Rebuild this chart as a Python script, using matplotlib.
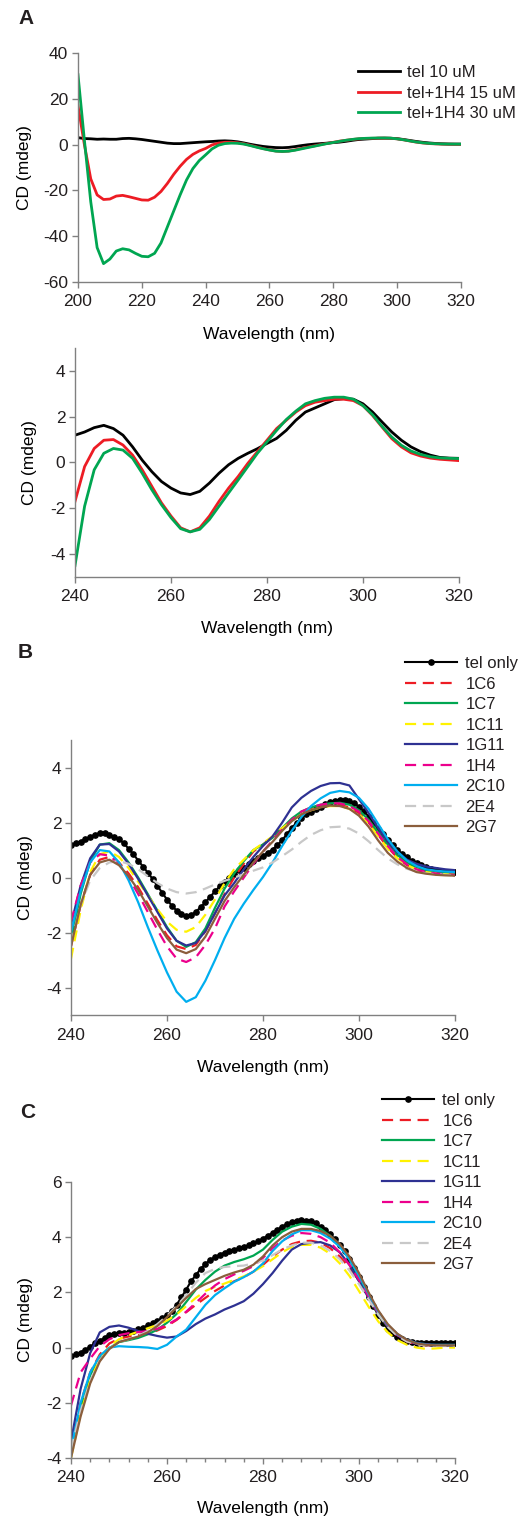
import numpy as np
import matplotlib.pyplot as plt
from matplotlib.ticker import MultipleLocator

plt.rcParams['font.family'] = ['Liberation Sans', 'DejaVu Sans']
plt.rcParams['font.size'] = 12.5
plt.rcParams['text.color'] = '#231f20'
plt.rcParams['axes.unicode_minus'] = False

# ---- panel A: 200-238 nm part (2 nm steps) ----
wl_a_low = np.arange(200, 240, 2)
tel_low = [3.0, 2.6, 2.5, 2.3, 2.4, 2.3, 2.3, 2.6, 2.7, 2.5, 2.2, 1.8, 1.4, 1.0, 0.6, 0.4, 0.4, 0.6, 0.8, 1.0]
h15_low = [17, 0, -15, -22, -24, -23.8, -22.5, -22.2, -22.8, -23.5, -24.2, -24.3, -23, -20.5, -17, -13, -9.5, -6.5, -4.3, -2.8]
h30_low = [30.5, 2, -25, -45, -52, -50, -46.5, -45.5, -46, -47.5, -48.8, -49, -47.5, -43, -36, -29, -22, -15.5, -10.5, -7]

# ---- 240-320 nm (2 nm steps) ----
wl = np.arange(240, 322, 2)
tel_a = [1.19, 1.33, 1.52, 1.62, 1.48, 1.19, 0.68, 0.1, -0.4, -0.83, -1.12, -1.33, -1.40, -1.26, -0.9, -0.47, -0.1, 0.18, 0.4, 0.6,
         0.83, 1.05, 1.4, 1.84, 2.2, 2.38, 2.56, 2.74, 2.79, 2.76, 2.56, 2.2, 1.76, 1.33, 0.97, 0.68, 0.47, 0.32, 0.22, 0.19, 0.18]
h15_a = [-1.7, -0.18, 0.61, 0.97, 1.0, 0.76, 0.32, -0.32, -1.04, -1.76, -2.34, -2.85, -3.03, -2.85, -2.34, -1.7, -1.12, -0.61, -0.04, 0.47,
         0.97, 1.48, 1.84, 2.2, 2.48, 2.63, 2.7, 2.76, 2.76, 2.7, 2.48, 2.05, 1.54, 1.04, 0.68, 0.42, 0.28, 0.19, 0.14, 0.11, 0.08]
h30_a = [-4.5, -1.91, -0.32, 0.4, 0.61, 0.54, 0.18, -0.47, -1.19, -1.84, -2.41, -2.89, -3.03, -2.92, -2.49, -1.91, -1.33, -0.76, -0.18, 0.4,
         0.9, 1.4, 1.87, 2.24, 2.56, 2.7, 2.8, 2.85, 2.85, 2.76, 2.48, 2.08, 1.57, 1.11, 0.75, 0.5, 0.35, 0.25, 0.2, 0.18, 0.17]

# ---- panel B ----
wl_1nm = np.arange(240, 321, 1)
tel_b = [1.20, 1.25, 1.30, 1.40, 1.48, 1.56, 1.62, 1.62, 1.55, 1.48, 1.40, 1.25, 1.05, 0.85, 0.62, 0.40, 0.18, -0.05, -0.30, -0.55,
         -0.80, -1.02, -1.20, -1.33, -1.38, -1.36, -1.25, -1.08, -0.90, -0.70, -0.50, -0.32, -0.15, 0.00, 0.14, 0.26, 0.36, 0.48, 0.62, 0.72,
         0.80, 0.90, 1.02, 1.18, 1.36, 1.58, 1.80, 2.00, 2.16, 2.30, 2.40, 2.50, 2.58, 2.68, 2.76, 2.80, 2.83, 2.82, 2.78, 2.70,
         2.58, 2.42, 2.22, 2.00, 1.78, 1.57, 1.37, 1.18, 1.00, 0.86, 0.74, 0.62, 0.52, 0.44, 0.38, 0.32, 0.28, 0.25, 0.22, 0.20, 0.19]
b_1c6 = [-2.5, -1.0, 0.1, 0.65, 0.75, 0.55, 0.15, -0.35, -0.95, -1.55, -2.1, -2.5, -2.6, -2.45, -1.95, -1.3, -0.6, 0.0, 0.5, 0.95,
         1.2, 1.5, 1.8, 2.1, 2.35, 2.5, 2.6, 2.65, 2.65, 2.55, 2.35, 2.0, 1.55, 1.1, 0.72, 0.45, 0.28, 0.18, 0.12, 0.1, 0.08]
b_1c7 = [-2.3, -0.6, 0.6, 1.2, 1.25, 1.0, 0.55, 0.0, -0.6, -1.2, -1.8, -2.3, -2.52, -2.35, -1.85, -1.1, -0.4, 0.15, 0.6, 1.0,
         1.2, 1.45, 1.8, 2.15, 2.4, 2.55, 2.65, 2.7, 2.72, 2.65, 2.45, 2.1, 1.65, 1.2, 0.82, 0.55, 0.35, 0.25, 0.2, 0.17, 0.15]
b_1c11 = [-2.95, -1.2, 0.2, 0.85, 0.95, 0.75, 0.35, -0.15, -0.65, -1.15, -1.6, -1.9, -1.97, -1.8, -1.35, -0.8, -0.2, 0.3, 0.65, 1.0,
          1.25, 1.5, 1.8, 2.05, 2.3, 2.45, 2.55, 2.6, 2.6, 2.5, 2.3, 1.95, 1.5, 1.05, 0.7, 0.45, 0.3, 0.2, 0.15, 0.12, 0.1]
b_1g11 = [-1.7, -0.3, 0.7, 1.2, 1.22, 0.95, 0.5, -0.05, -0.65, -1.25, -1.85, -2.3, -2.47, -2.38, -1.95, -1.3, -0.65, -0.2, 0.3, 0.75,
          1.15, 1.5, 2.0, 2.55, 2.9, 3.15, 3.33, 3.43, 3.44, 3.35, 2.85, 2.35, 1.8, 1.3, 0.92, 0.65, 0.5, 0.4, 0.35, 0.3, 0.27]
b_1h4 = [-1.6, -0.3, 0.55, 0.85, 0.8, 0.5, 0.0, -0.6, -1.25, -1.9, -2.5, -2.95, -3.07, -2.9, -2.45, -1.85, -1.05, -0.5, 0.0, 0.5,
         0.95, 1.35, 1.75, 2.1, 2.4, 2.55, 2.65, 2.7, 2.7, 2.6, 2.4, 2.05, 1.6, 1.15, 0.75, 0.48, 0.3, 0.2, 0.15, 0.12, 0.1]
b_2c10 = [-2.0, -0.5, 0.55, 1.0, 0.95, 0.55, -0.1, -0.9, -1.8, -2.65, -3.45, -4.15, -4.52, -4.35, -3.75, -3.0, -2.2, -1.5, -0.95, -0.45,
          0.02, 0.55, 1.15, 1.7, 2.2, 2.6, 2.88, 3.08, 3.15, 3.1, 2.9, 2.5, 1.95, 1.4, 0.95, 0.62, 0.42, 0.3, 0.25, 0.22, 0.2]
b_2e4 = [-2.4, -1.0, -0.1, 0.35, 0.55, 0.6, 0.5, 0.3, 0.05, -0.2, -0.4, -0.53, -0.58, -0.53, -0.4, -0.25, -0.12, 0.0, 0.12, 0.25,
         0.37, 0.55, 0.78, 1.02, 1.3, 1.55, 1.72, 1.83, 1.85, 1.78, 1.6, 1.32, 1.0, 0.7, 0.48, 0.32, 0.22, 0.15, 0.12, 0.1, 0.08]
b_2g7 = [-2.5, -1.0, 0.1, 0.55, 0.65, 0.45, 0.05, -0.45, -1.05, -1.65, -2.2, -2.62, -2.75, -2.6, -2.15, -1.5, -0.85, -0.35, 0.1, 0.55,
         0.95, 1.3, 1.7, 2.05, 2.3, 2.45, 2.55, 2.62, 2.6, 2.5, 2.25, 1.85, 1.35, 0.9, 0.58, 0.35, 0.2, 0.14, 0.1, 0.08, 0.07]

# ---- panel C ----
tel_c = [-0.29, -0.25, -0.18, -0.08, 0.03, 0.15, 0.25, 0.35, 0.45, 0.5, 0.52, 0.54, 0.56, 0.6, 0.66, 0.72, 0.8, 0.88, 0.96, 1.06,
         1.18, 1.33, 1.55, 1.82, 2.1, 2.4, 2.62, 2.85, 3.02, 3.18, 3.28, 3.37, 3.44, 3.49, 3.55, 3.6, 3.65, 3.7, 3.78, 3.86,
         3.95, 4.05, 4.15, 4.27, 4.38, 4.48, 4.55, 4.6, 4.62, 4.6, 4.57, 4.5, 4.38, 4.25, 4.1, 3.92, 3.72, 3.5, 3.22, 2.9,
         2.55, 2.2, 1.85, 1.5, 1.18, 0.9, 0.68, 0.53, 0.4, 0.3, 0.24, 0.2, 0.17, 0.16, 0.16, 0.16, 0.16, 0.17, 0.17, 0.18, 0.18]
c_1c6 = [-3.6, -2.0, -0.9, -0.25, 0.15, 0.32, 0.4, 0.45, 0.52, 0.62, 0.78, 1.0, 1.28, 1.55, 1.8, 2.05, 2.25, 2.4, 2.55, 2.75,
         3.0, 3.3, 3.55, 3.75, 3.85, 3.87, 3.8, 3.6, 3.3, 2.9, 2.4, 1.8, 1.2, 0.75, 0.42, 0.22, 0.12, 0.08, 0.06, 0.06, 0.06]
c_1c7 = [-3.8, -2.2, -1.0, -0.35, -0.02, 0.2, 0.27, 0.35, 0.48, 0.65, 0.9, 1.22, 1.65, 2.1, 2.45, 2.75, 2.97, 3.1, 3.2, 3.33,
         3.55, 3.9, 4.2, 4.38, 4.48, 4.45, 4.3, 4.05, 3.7, 3.2, 2.55, 1.85, 1.2, 0.75, 0.45, 0.27, 0.17, 0.12, 0.1, 0.1, 0.1]
c_1c11 = [-4.0, -2.4, -1.2, -0.4, 0.05, 0.3, 0.45, 0.58, 0.7, 0.82, 0.98, 1.2, 1.5, 1.8, 2.05, 2.2, 2.32, 2.45, 2.58, 2.75,
          2.95, 3.2, 3.45, 3.65, 3.72, 3.72, 3.62, 3.4, 3.05, 2.6, 2.05, 1.48, 0.95, 0.55, 0.27, 0.1, 0.0, -0.05, -0.03, 0.0, 0.0]
c_1g11 = [-3.4, -1.5, -0.2, 0.55, 0.75, 0.8, 0.72, 0.6, 0.5, 0.42, 0.36, 0.4, 0.6, 0.85, 1.05, 1.2, 1.38, 1.52, 1.68, 1.95,
          2.3, 2.7, 3.15, 3.55, 3.75, 3.8, 3.82, 3.7, 3.45, 3.0, 2.4, 1.8, 1.25, 0.8, 0.48, 0.28, 0.17, 0.12, 0.1, 0.1, 0.1]
c_1h4 = [-2.1, -0.9, -0.4, 0.05, 0.3, 0.45, 0.52, 0.56, 0.6, 0.68, 0.82, 1.02, 1.3, 1.62, 1.95, 2.25, 2.48, 2.65, 2.78, 2.95,
         3.25, 3.6, 3.88, 4.05, 4.15, 4.12, 4.0, 3.8, 3.45, 3.0, 2.45, 1.85, 1.25, 0.78, 0.45, 0.25, 0.14, 0.1, 0.08, 0.08, 0.08]
c_2c10 = [-3.7, -2.0, -0.9, -0.3, 0.0, 0.05, 0.03, 0.02, 0.0, -0.05, 0.1, 0.4, 0.65, 1.1, 1.55, 1.9, 2.15, 2.38, 2.55, 2.75,
          3.05, 3.5, 3.85, 4.1, 4.25, 4.25, 4.15, 3.95, 3.65, 3.2, 2.6, 1.95, 1.3, 0.82, 0.48, 0.27, 0.15, 0.1, 0.08, 0.08, 0.08]
c_2e4 = [-3.7, -2.3, -1.2, -0.45, -0.05, 0.2, 0.3, 0.42, 0.6, 0.85, 1.15, 1.5, 1.9, 2.35, 2.7, 2.85, 2.92, 2.95, 2.97, 3.05,
         3.15, 3.35, 3.55, 3.7, 3.8, 3.8, 3.7, 3.5, 3.2, 2.8, 2.3, 1.75, 1.2, 0.75, 0.42, 0.22, 0.12, 0.08, 0.06, 0.06, 0.06]
c_2g7 = [-4.0, -2.5, -1.3, -0.5, -0.05, 0.2, 0.3, 0.4, 0.55, 0.78, 1.1, 1.45, 1.8, 2.12, 2.3, 2.45, 2.6, 2.72, 2.82, 3.0,
         3.3, 3.7, 4.0, 4.2, 4.3, 4.3, 4.22, 4.05, 3.75, 3.3, 2.7, 2.0, 1.35, 0.85, 0.5, 0.28, 0.15, 0.1, 0.08, 0.08, 0.08]

names = ['1C6', '1C7', '1C11', '1G11', '1H4', '2C10', '2E4', '2G7']
colors = ['#ed1c24', '#00a651', '#fff200', '#2e3192', '#ec008c', '#00aeef', '#c8c8c8', '#8b5e3c']
dashed = [True, False, True, False, True, False, True, False]
b_series = [b_1c6, b_1c7, b_1c11, b_1g11, b_1h4, b_2c10, b_2e4, b_2g7]
c_series = [c_1c6, c_1c7, c_1c11, c_1g11, c_1h4, c_2c10, c_2e4, c_2g7]

spine_col = '#808080'
fs = 12.5
leg_fs = 12


def style(ax, xlabel_y, ylabel_x):
    for s in ['top', 'right']:
        ax.spines[s].set_visible(False)
    for s in ['left', 'bottom']:
        ax.spines[s].set_color(spine_col)
        ax.spines[s].set_linewidth(1.0)
    ax.tick_params(axis='both', direction='out', length=4, width=1.0, color=spine_col,
                   labelsize=fs, labelcolor='#231f20')
    ax.tick_params(axis='x', pad=5)
    ax.tick_params(axis='y', pad=3)
    ax.set_xlabel('Wavelength (nm)', fontsize=fs)
    ax.set_ylabel('CD (mdeg)', fontsize=fs)
    ax.xaxis.set_label_coords(0.5, xlabel_y)
    ax.yaxis.set_label_coords(ylabel_x, 0.5)


fig = plt.figure(figsize=(5.22, 15.2), dpi=100)

# A top
ax1 = fig.add_axes([0.1494, 0.8145, 0.7337, 0.1507])
wl_a = np.concatenate([wl_a_low, wl])
ax1.plot(wl_a, np.concatenate([tel_low, tel_a]), color='#000000', lw=2, label='tel 10 uM')
ax1.plot(wl_a, np.concatenate([h15_low, h15_a]), color='#ed1c24', lw=2, label='tel+1H4 15 uM')
ax1.plot(wl_a, np.concatenate([h30_low, h30_a]), color='#00a651', lw=2, label='tel+1H4 30 uM')
ax1.set_xlim(200, 320)
ax1.set_ylim(-60, 40)
ax1.set_xticks(range(200, 321, 20))
ax1.set_yticks(range(-60, 41, 20))
style(ax1, -0.197, -0.12)
ax1.legend(loc='upper left', bbox_to_anchor=(0.6705, 0.9625), bbox_transform=fig.transFigure,
           frameon=False, fontsize=leg_fs, borderpad=0, handlelength=2.5, handletextpad=0.4,
           labelspacing=0.33)

# A bottom
ax2 = fig.add_axes([0.1437, 0.6204, 0.7356, 0.1507])
ax2.plot(wl, tel_a, color='#000000', lw=2)
ax2.plot(wl, h15_a, color='#ed1c24', lw=2)
ax2.plot(wl, h30_a, color='#00a651', lw=2)
ax2.set_xlim(240, 320)
ax2.set_ylim(-5, 5)
ax2.set_xticks(range(240, 321, 20))
ax2.set_yticks(range(-4, 5, 2))
style(ax2, -0.192, -0.099)

# B and C
for pos, tel, series, ylim, yticks, leg_anchor, xl_y in [
        ([0.1360, 0.3322, 0.7356, 0.1809], tel_b, b_series, (-5, 5), range(-4, 5, 2), (0.7605, 0.5737), -0.164),
        ([0.1360, 0.0408, 0.7356, 0.1816], tel_c, c_series, (-4, 6), range(-4, 7, 2), (0.7165, 0.2862), -0.156)]:
    ax = fig.add_axes(pos)
    ax.plot(wl_1nm, tel, color='#000000', lw=1.5, marker='o', ms=3.8, label='tel only')
    for name, col, dash, vals in zip(names, colors, dashed, series):
        if dash:
            ax.plot(wl, vals, color=col, lw=1.6, dashes=(5, 3), label=name)
        else:
            ax.plot(wl, vals, color=col, lw=1.6, label=name)
    ax.set_xlim(240, 320)
    ax.set_ylim(*ylim)
    ax.set_xticks(range(240, 321, 20))
    ax.set_yticks(list(yticks))
    style(ax, xl_y, -0.099)
    ax.legend(loc='upper left', bbox_to_anchor=leg_anchor, bbox_transform=fig.transFigure,
              frameon=False, fontsize=leg_fs, borderpad=0, handlelength=3.1, handletextpad=0.5,
              labelspacing=0.33, numpoints=1)
    axc = ax

axc.xaxis.set_minor_locator(MultipleLocator(4))
axc.tick_params(axis='x', which='minor', direction='out', length=3, width=1.0, color=spine_col)

fig.text(18 / 522, 1 - 18 / 1520, 'A', fontsize=15, fontweight='bold', ha='left', va='center')
fig.text(18 / 522, 1 - 653 / 1520, 'B', fontsize=15, fontweight='bold', ha='left', va='center')
fig.text(20 / 522, 1 - 1112 / 1520, 'C', fontsize=15, fontweight='bold', ha='left', va='center')

fig.savefig('out.png', dpi=100)
